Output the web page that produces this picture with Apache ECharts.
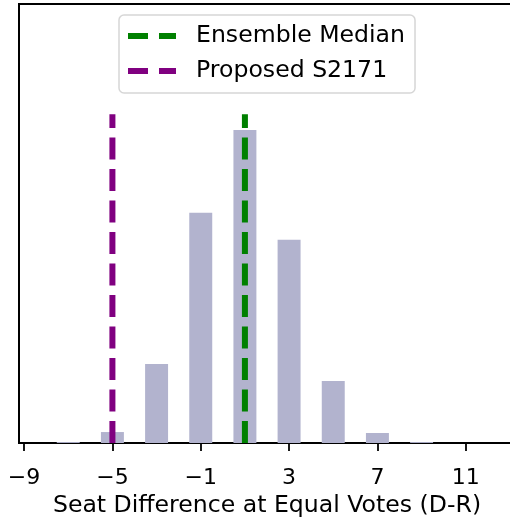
<!DOCTYPE html>
<html>
<head>
<meta charset="utf-8">
<script src="https://cdn.jsdelivr.net/npm/echarts@6/dist/echarts.min.js"></script>
<style>
html,body{margin:0;padding:0;background:#fff;overflow:hidden;}
#chart{width:510px;height:522px;}
</style>
</head>
<body>
<div id="chart"></div>
<script>
// Histogram of seat differences (bin centres) and heights (relative counts)
const binCenters = [-7, -5, -3, -1, 1, 3, 5, 7, 9];
const binCounts = [3, 35, 252, 735, 1000, 649, 198, 32, 3];
const tickValues = [-9, -5, -1, 3, 7, 11];
const ensembleMedian = 1;
const proposedPlan = -5;
const lineTop = 1050;
const xLabel = 'Seat Difference at Equal Votes (D-R)';

const barData = binCenters.map((c, i) => [c, binCounts[i]]);
const FONT = 'DejaVu Sans';
const halfWidth = 0.52;
const dashIcon = 'path://M0,0H20V6H0Z M31,0H48V6H31Z';

const chart = echarts.init(document.getElementById('chart'));
chart.setOption({
  animation: false,
  backgroundColor: '#ffffff',
  grid: {
    left: 19, top: 4, width: 496, height: 439,
    outerBoundsMode: 'none',
    containLabel: false,
    show: true, borderColor: '#000000', borderWidth: 2, backgroundColor: 'transparent'
  },
  legend: {
    data: [
      { name: 'Ensemble Median', icon: dashIcon },
      { name: 'Proposed S2171', icon: dashIcon }
    ],
    orient: 'vertical',
    left: 119, top: 15,
    padding: [9, 10, 10, 9],
    itemGap: 11,
    itemWidth: 48,
    itemHeight: 6,
    backgroundColor: 'rgba(255,255,255,0.8)',
    borderColor: 'rgba(204,204,204,0.8)',
    borderWidth: 1.5,
    borderRadius: 5,
    selectedMode: false,
    textStyle: { fontFamily: FONT, fontSize: 23.6, color: '#000', padding: [0, 0, 0, 15], lineHeight: 24 }
  },
  xAxis: {
    type: 'value',
    min: -9.23, max: 13.23,
    name: xLabel,
    nameLocation: 'middle',
    nameGap: 51,
    nameTextStyle: { fontFamily: FONT, fontSize: 23.6, color: '#000' },
    axisLine: { show: true, onZero: false, lineStyle: { color: '#000', width: 2 } },
    axisTick: { show: true, length: 8, lineStyle: { color: '#000', width: 1.8 }, customValues: tickValues },
    axisLabel: {
      show: true, margin: 24, fontFamily: FONT, fontSize: 22, color: '#000',
      customValues: tickValues,
      formatter: v => (v < 0 ? '\u2212' + Math.abs(v) : String(v))
    },
    splitLine: { show: false }
  },
  yAxis: {
    type: 'value', min: 0, max: 1402,
    axisLine: { show: false }, axisTick: { show: false }, axisLabel: { show: false }, splitLine: { show: false }
  },
  series: [
    {
      type: 'custom',
      name: 'hist',
      data: barData,
      z: 1,
      renderItem: function (params, api) {
        const x = api.value(0), y = api.value(1);
        const p0 = api.coord([x - halfWidth, y]);
        const p1 = api.coord([x + halfWidth, 0]);
        return {
          type: 'rect',
          shape: { x: p0[0], y: p0[1], width: p1[0] - p0[0], height: p1[1] - p0[1] },
          style: { fill: '#b2b3ce' }
        };
      }
    },
    {
      type: 'line',
      name: 'Ensemble Median',
      data: [[ensembleMedian, 0], [ensembleMedian, lineTop]],
      symbol: 'none',
      z: 3,
      color: '#008000',
      itemStyle: { color: '#008000' },
      lineStyle: { color: '#008000', width: 6, type: [22, 9.5], cap: 'butt' }
    },
    {
      type: 'line',
      name: 'Proposed S2171',
      data: [[proposedPlan, 0], [proposedPlan, lineTop]],
      symbol: 'none',
      z: 3,
      color: '#800080',
      itemStyle: { color: '#800080' },
      lineStyle: { color: '#800080', width: 6, type: [22, 9.5], cap: 'butt' }
    }
  ]
});
</script>
</body>
</html>
